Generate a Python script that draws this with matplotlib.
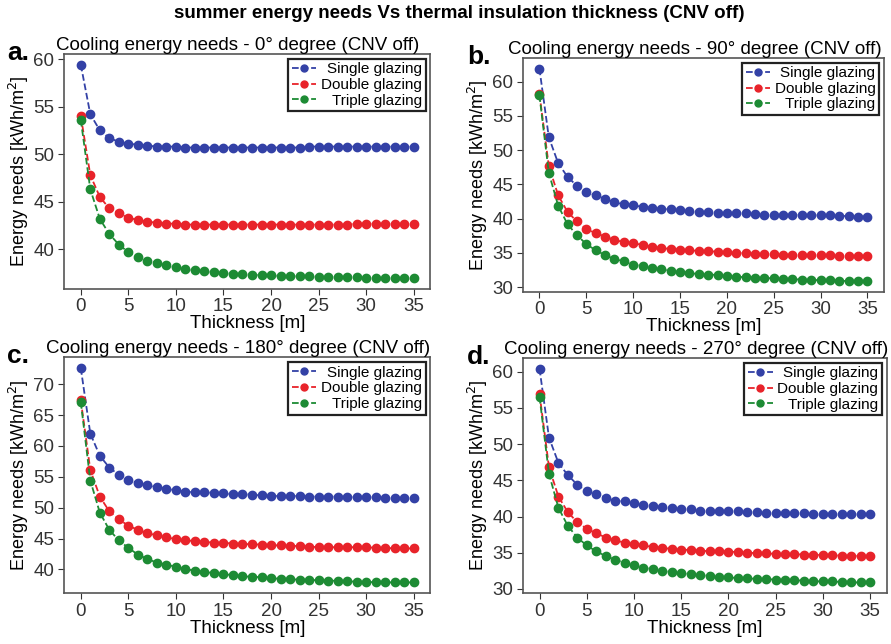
import matplotlib.pyplot as plt
import numpy as np
from matplotlib.ticker import MultipleLocator

plt.rcParams["font.family"] = ["Liberation Sans", "DejaVu Sans"]

thickness = np.arange(36)

single_0 = [59.4, 54.2, 52.5, 51.7, 51.3, 51.1, 51.0, 50.9, 50.8, 50.8, 50.8, 50.7,
            50.7, 50.7, 50.7, 50.7, 50.7, 50.7, 50.7, 50.7, 50.7, 50.7, 50.7, 50.7,
            50.8, 50.8, 50.8, 50.8, 50.8, 50.8, 50.8, 50.8, 50.8, 50.8, 50.8, 50.8]
double_0 = [54.0, 47.8, 45.5, 44.3, 43.8, 43.3, 43.1, 42.9, 42.8, 42.7, 42.7, 42.6,
            42.6, 42.6, 42.6, 42.6, 42.6, 42.6, 42.6, 42.6, 42.6, 42.6, 42.6, 42.6,
            42.6, 42.6, 42.6, 42.6, 42.6, 42.7, 42.7, 42.7, 42.7, 42.7, 42.7, 42.7]
triple_0 = [53.6, 46.3, 43.2, 41.6, 40.5, 39.7, 39.2, 38.8, 38.6, 38.3, 38.1, 37.9,
            37.8, 37.7, 37.6, 37.5, 37.45, 37.4, 37.3, 37.3, 37.25, 37.2, 37.2, 37.15,
            37.15, 37.1, 37.1, 37.1, 37.1, 37.1, 37.0, 37.0, 37.0, 37.0, 37.0, 37.0]

single_90 = [61.9, 51.9, 48.1, 46.1, 44.8, 43.9, 43.4, 42.9, 42.4, 42.1, 42.0, 41.7,
             41.6, 41.4, 41.4, 41.2, 41.1, 41.0, 40.95, 40.9, 40.8, 40.8, 40.8, 40.7,
             40.6, 40.6, 40.6, 40.6, 40.5, 40.5, 40.5, 40.5, 40.4, 40.4, 40.3, 40.3]
double_90 = [58.2, 47.7, 43.4, 41.0, 39.6, 38.5, 37.9, 37.4, 36.9, 36.6, 36.4, 36.2,
             35.9, 35.7, 35.6, 35.5, 35.4, 35.3, 35.25, 35.2, 35.1, 35.0, 35.0, 34.9,
             34.8, 34.8, 34.75, 34.7, 34.7, 34.7, 34.65, 34.65, 34.6, 34.6, 34.6, 34.6]
triple_90 = [58.0, 46.7, 41.9, 39.2, 37.6, 36.3, 35.4, 34.7, 34.1, 33.8, 33.3, 33.1,
             32.8, 32.6, 32.4, 32.3, 32.1, 31.9, 31.85, 31.8, 31.6, 31.5, 31.5, 31.4,
             31.35, 31.3, 31.2, 31.2, 31.1, 31.05, 31.05, 31.05, 30.95, 30.9, 30.9, 30.9]

single_180 = [72.6, 62.0, 58.4, 56.5, 55.3, 54.5, 54.0, 53.7, 53.3, 53.1, 52.8, 52.6,
              52.5, 52.5, 52.4, 52.3, 52.2, 52.2, 52.1, 52.0, 51.9, 51.9, 51.9, 51.9,
              51.8, 51.8, 51.8, 51.8, 51.8, 51.7, 51.7, 51.7, 51.6, 51.6, 51.5, 51.5]
double_180 = [67.4, 56.1, 51.8, 49.4, 48.1, 47.1, 46.4, 45.9, 45.5, 45.2, 44.9, 44.7,
              44.6, 44.5, 44.3, 44.3, 44.2, 44.1, 44.1, 44.0, 43.9, 43.9, 43.8, 43.8,
              43.7, 43.6, 43.6, 43.6, 43.6, 43.6, 43.6, 43.5, 43.5, 43.4, 43.4, 43.4]
triple_180 = [67.1, 54.4, 49.2, 46.4, 44.7, 43.5, 42.4, 41.7, 41.1, 40.8, 40.4, 40.05,
              39.8, 39.6, 39.4, 39.2, 39.1, 38.9, 38.8, 38.75, 38.55, 38.5, 38.4, 38.35,
              38.3, 38.25, 38.2, 38.15, 38.1, 38.0, 37.95, 37.95, 37.9, 37.9, 37.9, 37.9]

single_270 = [60.4, 50.9, 47.4, 45.7, 44.4, 43.5, 43.1, 42.6, 42.2, 42.1, 41.8, 41.6,
              41.5, 41.3, 41.2, 41.0, 41.0, 40.8, 40.8, 40.75, 40.75, 40.7, 40.6, 40.6,
              40.55, 40.5, 40.5, 40.45, 40.45, 40.4, 40.4, 40.35, 40.35, 40.3, 40.3, 40.3]
double_270 = [56.9, 46.8, 42.75, 40.6, 39.2, 38.3, 37.7, 37.1, 36.7, 36.4, 36.2, 36.0,
              35.8, 35.7, 35.5, 35.4, 35.4, 35.3, 35.2, 35.2, 35.15, 35.1, 35.0, 34.95,
              34.9, 34.85, 34.8, 34.8, 34.75, 34.7, 34.7, 34.65, 34.6, 34.6, 34.55, 34.55]
triple_270 = [56.5, 45.9, 41.2, 38.7, 37.1, 36.0, 35.2, 34.55, 34.05, 33.6, 33.3, 32.95,
              32.7, 32.5, 32.3, 32.2, 32.0, 31.9, 31.8, 31.7, 31.6, 31.5, 31.45, 31.4,
              31.35, 31.3, 31.25, 31.2, 31.15, 31.05, 31.05, 31.05, 30.95, 30.9, 30.9, 30.9]

panel_labels = ["a.", "b.", "c.", "d."]
angles = ["0°", "90°", "180°", "270°"]
series_labels = ["Single glazing", "Double glazing", "Triple glazing"]
colors = ["#3341a6", "#e8232a", "#1d8b34"]

panels = [
    (single_0, double_0, triple_0),
    (single_90, double_90, triple_90),
    (single_180, double_180, triple_180),
    (single_270, double_270, triple_270),
]

ax_rects = [
    (0.072, 0.552, 0.411, 0.364),
    (0.587, 0.547, 0.405, 0.363),
    (0.072, 0.079, 0.411, 0.366),
    (0.587, 0.079, 0.408, 0.365),
]

fig = plt.figure(figsize=(8.91, 6.44), dpi=100)
fig.suptitle("summer energy needs Vs thermal insulation thickness (CNV off)",
             x=0.515, fontsize=13.5, fontweight="bold", y=0.993)

legends = []
for rect, label, angle, series in zip(ax_rects, panel_labels, angles, panels):
    ax = fig.add_axes(rect)
    for values, name, color in zip(series, series_labels, colors):
        ax.plot(thickness, values, linestyle="--", marker="o", markersize=6,
                linewidth=1.3, color=color, label=name)

    ax.set_title(f"Cooling energy needs - {angle} degree (CNV off)",
                 fontsize=13.5, pad=3, x=0.475)
    ax.text(-0.155, 0.975, label, transform=ax.transAxes, fontsize=19,
            fontweight="bold", ha="left", va="baseline")
    ax.set_xlabel("Thickness [m]", fontsize=13.5, labelpad=0)
    ax.set_ylabel("Energy needs [kWh/m$^2$]", fontsize=13, labelpad=2)
    ax.set_xticks(range(0, 36, 5))
    ax.yaxis.set_major_locator(MultipleLocator(5))
    ax.tick_params(labelsize=13.5, colors="#333333", length=4, pad=3)
    for spine in ax.spines.values():
        spine.set_color("#555555")
        spine.set_linewidth(1.2)

    leg = ax.legend(loc="upper right", fontsize=11, handlelength=1.6,
                    handletextpad=0.3, borderpad=0.25, labelspacing=0.1,
                    fancybox=False, framealpha=1, borderaxespad=0.3)
    leg.get_frame().set_edgecolor("#222222")
    leg.get_frame().set_linewidth(1.6)
    for handle in leg.legend_handles:
        handle.set_markersize(5)
    legends.append(leg)

# legend labels are right-aligned in the reference: hide the originals
# and redraw them at the right edge of the label column
fig.canvas.draw()
renderer = fig.canvas.get_renderer()
W, H = fig.bbox.width, fig.bbox.height
for leg in legends:
    texts = leg.get_texts()
    boxes = [t.get_window_extent(renderer) for t in texts]
    right = max(b.x1 for b in boxes)
    for t, b in zip(texts, boxes):
        fig.text(right / W, (b.y0 + b.y1) / 2 / H, t.get_text(), fontsize=11,
                 ha="right", va="center", zorder=10)
        t.set_alpha(0)

fig.savefig("out.png", dpi=100)
